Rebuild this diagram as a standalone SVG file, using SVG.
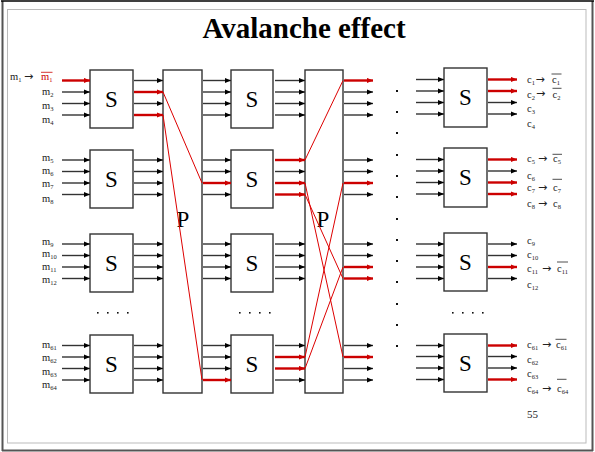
<svg xmlns="http://www.w3.org/2000/svg" width="595" height="452" viewBox="0 0 595 452">
<style>
.bx{fill:#fff;stroke:#333;stroke-width:1.4}
.st{font-family:"Liberation Serif",serif;font-size:23px;text-anchor:middle;fill:#000}
.a{stroke:#333;stroke-width:1.4;fill:none;marker-end:url(#mb)}
.r{stroke:#cc0000;stroke-width:2.4;fill:none;marker-end:url(#mr)}
.rl{stroke:#dd0000;stroke-width:1;fill:none}
.lb{font-family:"Liberation Serif",serif;font-size:10.5px;fill:#222}
.sb{font-size:6.5px}
.ar{font-family:"DejaVu Sans",sans-serif;font-size:11px}
.ov{stroke:#222;stroke-width:0.8}
.dt{fill:#111}
</style>
<defs>
<marker id="mb" markerWidth="6" markerHeight="6" refX="6" refY="3" orient="auto" markerUnits="userSpaceOnUse"><path d="M0,0.6L6,3L0,5.4z" fill="#000"/></marker>
<marker id="mr" markerWidth="6" markerHeight="6" refX="6" refY="3" orient="auto" markerUnits="userSpaceOnUse"><path d="M0,0.4L6,3L0,5.6z" fill="#cc0000"/></marker>
</defs>
<rect x="0" y="0" width="595" height="452" fill="#fff"/>
<path d="M2.5,1V451M592.5,1V451M2,450.5H593" stroke="#555" stroke-width="2" fill="none"/>
<path d="M1,1H594" stroke="#000" stroke-width="1.5"/>
<rect x="7.5" y="9.5" width="578.5" height="433.5" fill="none" stroke="#bbb" stroke-width="1"/>
<text x="304" y="38" font-family="Liberation Serif, serif" font-size="29" font-weight="bold" text-anchor="middle">Avalanche effect</text>

<g id="s1a"><rect class="bx" x="90" y="70" width="43" height="58"/><text class="st" x="111.5" y="107">S</text></g>
<g id="s1b"><rect class="bx" x="90" y="150" width="43" height="58"/><text class="st" x="111.5" y="187">S</text></g>
<g id="s1c"><rect class="bx" x="90" y="234" width="43" height="58"/><text class="st" x="111.5" y="271">S</text></g>
<g id="s1d"><rect class="bx" x="90" y="335" width="43" height="58"/><text class="st" x="111.5" y="372">S</text></g>
<g id="p1"><rect class="bx" x="163" y="70" width="39" height="323"/><text class="st" x="183" y="227">P</text></g>
<g id="s2a"><rect class="bx" x="231" y="70" width="42" height="58"/><text class="st" x="252" y="107">S</text></g>
<g id="s2b"><rect class="bx" x="231" y="150" width="42" height="58"/><text class="st" x="252" y="187">S</text></g>
<g id="s2c"><rect class="bx" x="231" y="234" width="42" height="58"/><text class="st" x="252" y="271">S</text></g>
<g id="s2d"><rect class="bx" x="231" y="335" width="42" height="58"/><text class="st" x="252" y="372">S</text></g>
<g id="p2"><rect class="bx" x="305" y="70" width="38" height="323"/><text class="st" x="323" y="227">P</text></g>
<g id="s3a"><rect class="bx" x="444" y="68" width="43" height="59"/><text class="st" x="465.5" y="105">S</text></g>
<g id="s3b"><rect class="bx" x="444" y="148" width="43" height="59"/><text class="st" x="465.5" y="185">S</text></g>
<g id="s3c"><rect class="bx" x="444" y="233" width="43" height="58"/><text class="st" x="465.5" y="270">S</text></g>
<g id="s3d"><rect class="bx" x="444" y="334" width="43" height="58"/><text class="st" x="465.5" y="371">S</text></g>

<g id="connectors">
<path class="r" d="M62,80.5H90"/><path class="a" d="M62,92H90"/><path class="a" d="M62,103.5H90"/><path class="a" d="M62,115H90"/>
<path class="a" d="M62,160H90"/><path class="a" d="M62,171.5H90"/><path class="a" d="M62,183H90"/><path class="a" d="M62,194.5H90"/>
<path class="a" d="M62,244H90"/><path class="a" d="M62,255.5H90"/><path class="a" d="M62,267H90"/><path class="a" d="M62,278.5H90"/>
<path class="a" d="M62,345.5H90"/><path class="a" d="M62,357H90"/><path class="a" d="M62,368.5H90"/><path class="a" d="M62,380H90"/>

<path class="a" d="M134,80.5H163"/><path class="r" d="M134,92H163"/><path class="a" d="M134,103.5H163"/><path class="r" d="M134,115H163"/>
<path class="a" d="M134,160H163"/><path class="a" d="M134,171.5H163"/><path class="a" d="M134,183H163"/><path class="a" d="M134,194.5H163"/>
<path class="a" d="M134,244H163"/><path class="a" d="M134,255.5H163"/><path class="a" d="M134,267H163"/><path class="a" d="M134,278.5H163"/>
<path class="a" d="M134,345.5H163"/><path class="a" d="M134,357H163"/><path class="a" d="M134,368.5H163"/><path class="a" d="M134,380H163"/>

<path class="a" d="M203,80.5H231"/><path class="a" d="M203,92H231"/><path class="a" d="M203,103.5H231"/><path class="a" d="M203,115H231"/>
<path class="a" d="M203,160H231"/><path class="a" d="M203,171.5H231"/><path class="r" d="M203,183H231"/><path class="a" d="M203,194.5H231"/>
<path class="a" d="M203,244H231"/><path class="a" d="M203,255.5H231"/><path class="a" d="M203,267H231"/><path class="a" d="M203,278.5H231"/>
<path class="a" d="M203,345.5H231"/><path class="a" d="M203,357H231"/><path class="a" d="M203,368.5H231"/><path class="r" d="M203,380H231"/>

<path class="a" d="M275,80.5H305"/><path class="a" d="M275,92H305"/><path class="a" d="M275,103.5H305"/><path class="a" d="M275,115H305"/>
<path class="r" d="M275,160H305"/><path class="a" d="M275,171.5H305"/><path class="r" d="M275,183H305"/><path class="r" d="M275,194.5H305"/>
<path class="a" d="M275,244H305"/><path class="a" d="M275,255.5H305"/><path class="a" d="M275,267H305"/><path class="a" d="M275,278.5H305"/>
<path class="a" d="M275,345.5H305"/><path class="r" d="M275,357H305"/><path class="r" d="M275,368.5H305"/><path class="a" d="M275,380H305"/>

<path class="r" d="M344,80.5H373"/><path class="a" d="M344,92H373"/><path class="a" d="M344,103.5H373"/><path class="a" d="M344,115H373"/>
<path class="a" d="M344,160H373"/><path class="a" d="M344,171.5H373"/><path class="r" d="M344,183H373"/><path class="a" d="M344,194.5H373"/>
<path class="a" d="M344,244H373"/><path class="a" d="M344,255.5H373"/><path class="r" d="M344,267H373"/><path class="r" d="M344,278.5H373"/>
<path class="a" d="M344,345.5H373"/><path class="r" d="M344,357H373"/><path class="a" d="M344,368.5H373"/><path class="a" d="M344,380H373"/>

<path class="a" d="M416,79.5H444"/><path class="a" d="M416,91H444"/><path class="a" d="M416,102.5H444"/><path class="a" d="M416,114H444"/>
<path class="a" d="M416,159.5H444"/><path class="a" d="M416,171H444"/><path class="a" d="M416,182.5H444"/><path class="a" d="M416,194H444"/>
<path class="a" d="M416,244H444"/><path class="a" d="M416,255.5H444"/><path class="a" d="M416,267H444"/><path class="a" d="M416,278.5H444"/>
<path class="a" d="M416,345.5H444"/><path class="a" d="M416,356.5H444"/><path class="a" d="M416,368H444"/><path class="a" d="M416,379.5H444"/>

<path class="r" d="M488,79.5H517"/><path class="r" d="M488,91H517"/><path class="a" d="M488,102.5H517"/><path class="a" d="M488,114H517"/>
<path class="r" d="M488,159.5H517"/><path class="a" d="M488,171H517"/><path class="r" d="M488,182.5H517"/><path class="r" d="M488,194H517"/>
<path class="a" d="M488,244H517"/><path class="a" d="M488,255.5H517"/><path class="r" d="M488,267H517"/><path class="a" d="M488,278.5H517"/>
<path class="r" d="M488,345.5H517"/><path class="a" d="M488,356.5H517"/><path class="a" d="M488,368H517"/><path class="r" d="M488,379.5H517"/>

<path class="rl" d="M163,92L202,183"/>
<path class="rl" d="M163,115L202,380"/>
<path class="rl" d="M305,160L343,80.5"/>
<path class="rl" d="M305,183L343,357"/>
<path class="rl" d="M305,194.5L343,278.5"/>
<path class="rl" d="M305,357L343,183"/>
<path class="rl" d="M305,368.5L343,267"/>
</g>

<g id="dots">
<rect class="dt" x="396" y="90" width="2" height="2"/><rect class="dt" x="396" y="111" width="2" height="2"/><rect class="dt" x="396" y="132" width="2" height="2"/><rect class="dt" x="396" y="154" width="2" height="2"/><rect class="dt" x="396" y="175" width="2" height="2"/><rect class="dt" x="396" y="196" width="2" height="2"/><rect class="dt" x="396" y="218" width="2" height="2"/><rect class="dt" x="396" y="239" width="2" height="2"/><rect class="dt" x="396" y="260" width="2" height="2"/><rect class="dt" x="396" y="281" width="2" height="2"/><rect class="dt" x="396" y="303" width="2" height="2"/><rect class="dt" x="396" y="324" width="2" height="2"/><rect class="dt" x="396" y="345" width="2" height="2"/>
<rect class="dt" x="97" y="312" width="1.6" height="1.6"/><rect class="dt" x="107" y="312" width="1.6" height="1.6"/><rect class="dt" x="117" y="312" width="1.6" height="1.6"/><rect class="dt" x="127" y="312" width="1.6" height="1.6"/>
<rect class="dt" x="239" y="312" width="1.6" height="1.6"/><rect class="dt" x="249" y="312" width="1.6" height="1.6"/><rect class="dt" x="259" y="312" width="1.6" height="1.6"/><rect class="dt" x="269" y="312" width="1.6" height="1.6"/>
<rect class="dt" x="452" y="312" width="1.6" height="1.6"/><rect class="dt" x="462" y="312" width="1.6" height="1.6"/><rect class="dt" x="472" y="312" width="1.6" height="1.6"/><rect class="dt" x="482" y="312" width="1.6" height="1.6"/>
</g>

<g id="inputs">
<text class="lb" x="10" y="80">m<tspan class="sb" dy="2">1</tspan><tspan class="ar" x="24" dy="-2.5">→</tspan></text>
<text class="lb" x="41" y="80" style="fill:#cc0000">m<tspan class="sb" dy="2">1</tspan></text>
<line x1="41" y1="72.3" x2="52.5" y2="72.3" stroke="#cc0000" stroke-width="0.8"/>
<text class="lb" x="42" y="94.5">m<tspan class="sb" dy="2">2</tspan></text>
<text class="lb" x="42" y="108.5">m<tspan class="sb" dy="2">3</tspan></text>
<text class="lb" x="42" y="123">m<tspan class="sb" dy="2">4</tspan></text>
<text class="lb" x="42" y="160.5">m<tspan class="sb" dy="2">5</tspan></text>
<text class="lb" x="42" y="173.5">m<tspan class="sb" dy="2">6</tspan></text>
<text class="lb" x="42" y="186.5">m<tspan class="sb" dy="2">7</tspan></text>
<text class="lb" x="42" y="202">m<tspan class="sb" dy="2">8</tspan></text>
<text class="lb" x="42" y="244.5">m<tspan class="sb" dy="2">9</tspan></text>
<text class="lb" x="42" y="256.5">m<tspan class="sb" dy="2">10</tspan></text>
<text class="lb" x="42" y="269.5">m<tspan class="sb" dy="2">11</tspan></text>
<text class="lb" x="42" y="283">m<tspan class="sb" dy="2">12</tspan></text>
<text class="lb" x="42" y="348">m<tspan class="sb" dy="2">61</tspan></text>
<text class="lb" x="42" y="361">m<tspan class="sb" dy="2">62</tspan></text>
<text class="lb" x="42" y="374.5">m<tspan class="sb" dy="2">63</tspan></text>
<text class="lb" x="42" y="388">m<tspan class="sb" dy="2">64</tspan></text>
</g>

<g id="outputs">
<text class="lb" x="527" y="83">c<tspan class="sb" dy="2">1</tspan><tspan class="ar" x="535.5" dy="-2.5">→</tspan></text>
<text class="lb" x="552" y="83">c<tspan class="sb" dy="2">1</tspan></text><line class="ov" x1="551.5" y1="74" x2="561.5" y2="74"/>
<text class="lb" x="527" y="97.5">c<tspan class="sb" dy="2">2</tspan><tspan class="ar" x="536" dy="-2.5">→</tspan></text>
<text class="lb" x="552.5" y="97.5">c<tspan class="sb" dy="2">2</tspan></text><line class="ov" x1="552.5" y1="88.3" x2="561.5" y2="88.3"/>
<text class="lb" x="527" y="112">c<tspan class="sb" dy="2">3</tspan></text>
<text class="lb" x="527" y="126.5">c<tspan class="sb" dy="2">4</tspan></text>
<text class="lb" x="527" y="162">c<tspan class="sb" dy="2">5</tspan><tspan class="ar" x="538" dy="-2.5">→</tspan></text>
<text class="lb" x="553" y="162">c<tspan class="sb" dy="2">5</tspan></text><line class="ov" x1="552.5" y1="154.3" x2="562" y2="154.3"/>
<text class="lb" x="527" y="178.5">c<tspan class="sb" dy="2">6</tspan></text>
<text class="lb" x="527" y="191">c<tspan class="sb" dy="2">7</tspan><tspan class="ar" x="538" dy="-2.5">→</tspan></text>
<text class="lb" x="553" y="191">c<tspan class="sb" dy="2">7</tspan></text><line class="ov" x1="552.5" y1="179.3" x2="562" y2="179.3"/>
<text class="lb" x="527" y="207">c<tspan class="sb" dy="2">8</tspan><tspan class="ar" x="538" dy="-2.5">→</tspan></text>
<text class="lb" x="553" y="207">c<tspan class="sb" dy="2">8</tspan></text>
<text class="lb" x="527" y="243.5">c<tspan class="sb" dy="2">9</tspan></text>
<text class="lb" x="527" y="258">c<tspan class="sb" dy="2">10</tspan></text>
<text class="lb" x="527" y="272">c<tspan class="sb" dy="2">11</tspan><tspan class="ar" x="542" dy="-2.5">→</tspan></text>
<text class="lb" x="557" y="272">c<tspan class="sb" dy="2">11</tspan></text><line class="ov" x1="557" y1="262" x2="568" y2="262"/>
<text class="lb" x="527" y="288">c<tspan class="sb" dy="2">12</tspan></text>
<text class="lb" x="527" y="348">c<tspan class="sb" dy="2">61</tspan><tspan class="ar" x="542" dy="-2.5">→</tspan></text>
<text class="lb" x="556" y="348">c<tspan class="sb" dy="2">61</tspan></text><line class="ov" x1="555.5" y1="339.3" x2="566.5" y2="339.3"/>
<text class="lb" x="527" y="362.5">c<tspan class="sb" dy="2">62</tspan></text>
<text class="lb" x="527" y="377">c<tspan class="sb" dy="2">63</tspan></text>
<text class="lb" x="527" y="392">c<tspan class="sb" dy="2">64</tspan><tspan class="ar" x="542" dy="-2.5">→</tspan></text>
<text class="lb" x="557" y="392">c<tspan class="sb" dy="2">64</tspan></text><line class="ov" x1="557" y1="379.3" x2="566.5" y2="379.3"/>
</g>
<text class="lb" x="527" y="418" style="font-size:11px">55</text>
</svg>
